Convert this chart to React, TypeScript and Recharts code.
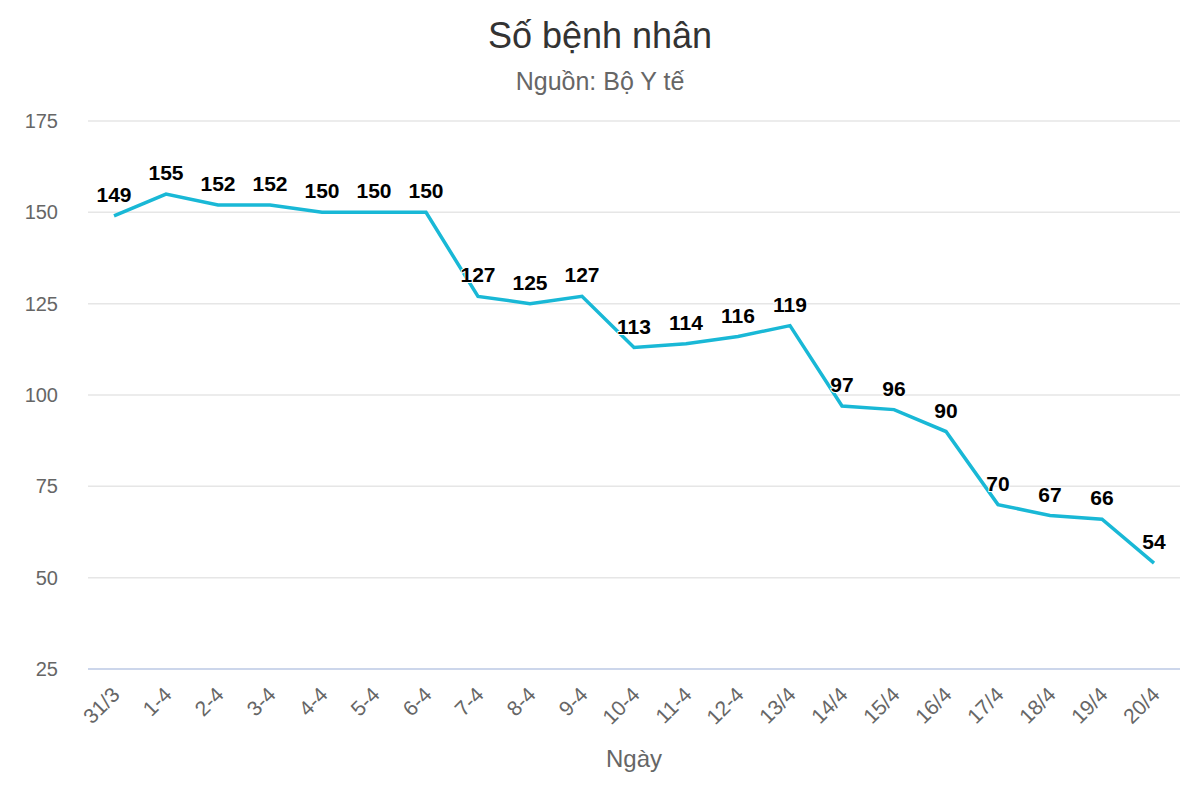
import { LineChart, Line, XAxis, YAxis, CartesianGrid, LabelList } from "recharts";

const days = [
  "31/3", "1-4", "2-4", "3-4", "4-4", "5-4", "6-4", "7-4", "8-4", "9-4", "10-4",
  "11-4", "12-4", "13/4", "14/4", "15/4", "16/4", "17/4", "18/4", "19/4", "20/4",
];
const patients = [149, 155, 152, 152, 150, 150, 150, 127, 125, 127, 113, 114, 116, 119, 97, 96, 90, 70, 67, 66, 54];
const yTicks = [25, 50, 75, 100, 125, 150, 175];

const data = days.map((d, i) => ({ day: d, value: patients[i] }));

const FONT = "'Liberation Sans', Arial, Helvetica, sans-serif";

const XTick = ({ x, y, payload }: any) => (
  <text
    x={x + 7}
    y={y + 19}
    transform={`rotate(-45, ${x + 7}, ${y + 19})`}
    textAnchor="end"
    fill="#666666"
    fontSize={21}
    fontFamily={FONT}
  >
    {payload.value}
  </text>
);

const YTick = ({ y, payload }: any) => (
  <text x={58} y={y + 7} textAnchor="end" fill="#666666" fontSize={20} fontFamily={FONT}>
    {payload.value}
  </text>
);

const ValueLabel = ({ x, y, value }: any) => (
  <text
    x={x}
    y={y - 14}
    textAnchor="middle"
    fill="#000000"
    fontSize={21}
    fontWeight="bold"
    fontFamily={FONT}
    stroke="#ffffff"
    strokeWidth={2}
    paintOrder="stroke"
  >
    {value}
  </text>
);

export default function App() {
  return (
    <div style={{ position: "absolute", left: 0, top: 0, width: 1200, height: 800, background: "#fff", fontFamily: FONT }}>
      <svg width={1200} height={800} style={{ position: "absolute", left: 0, top: 0 }}>
        <text x={600} y={48} textAnchor="middle" fill="#333333" fontSize={36} fontFamily={FONT}>Số bệnh nhân</text>
        <text x={600} y={90} textAnchor="middle" fill="#666666" fontSize={25} fontFamily={FONT}>Nguồn: Bộ Y tế</text>
        <text x={634} y={767} textAnchor="middle" fill="#666666" fontSize={24} fontFamily={FONT}>Ngày</text>
      </svg>
      <div style={{ position: "absolute", left: 0, top: 0 }}>
        <LineChart width={1200} height={800} data={data} margin={{ top: 121, right: 20, bottom: 0, left: 0 }}>
          <CartesianGrid vertical={false} stroke="#e6e6e6" strokeWidth={1.5} />
          <XAxis
            dataKey="day"
            interval={0}
            padding={{ left: 26, right: 26 }}
            axisLine={{ stroke: "#ccd6eb", strokeWidth: 2 }}
            tickLine={false}
            tick={<XTick />}
            height={131}
          />
          <YAxis
            domain={[25, 175]}
            ticks={yTicks}
            width={88}
            axisLine={false}
            tickLine={false}
            tick={<YTick />}
          />
          <Line
            type="linear"
            dataKey="value"
            stroke="#19b8d6"
            strokeWidth={3.5}
            dot={false}
            isAnimationActive={false}
          >
            <LabelList dataKey="value" content={<ValueLabel />} />
          </Line>
        </LineChart>
      </div>
    </div>
  );
}
